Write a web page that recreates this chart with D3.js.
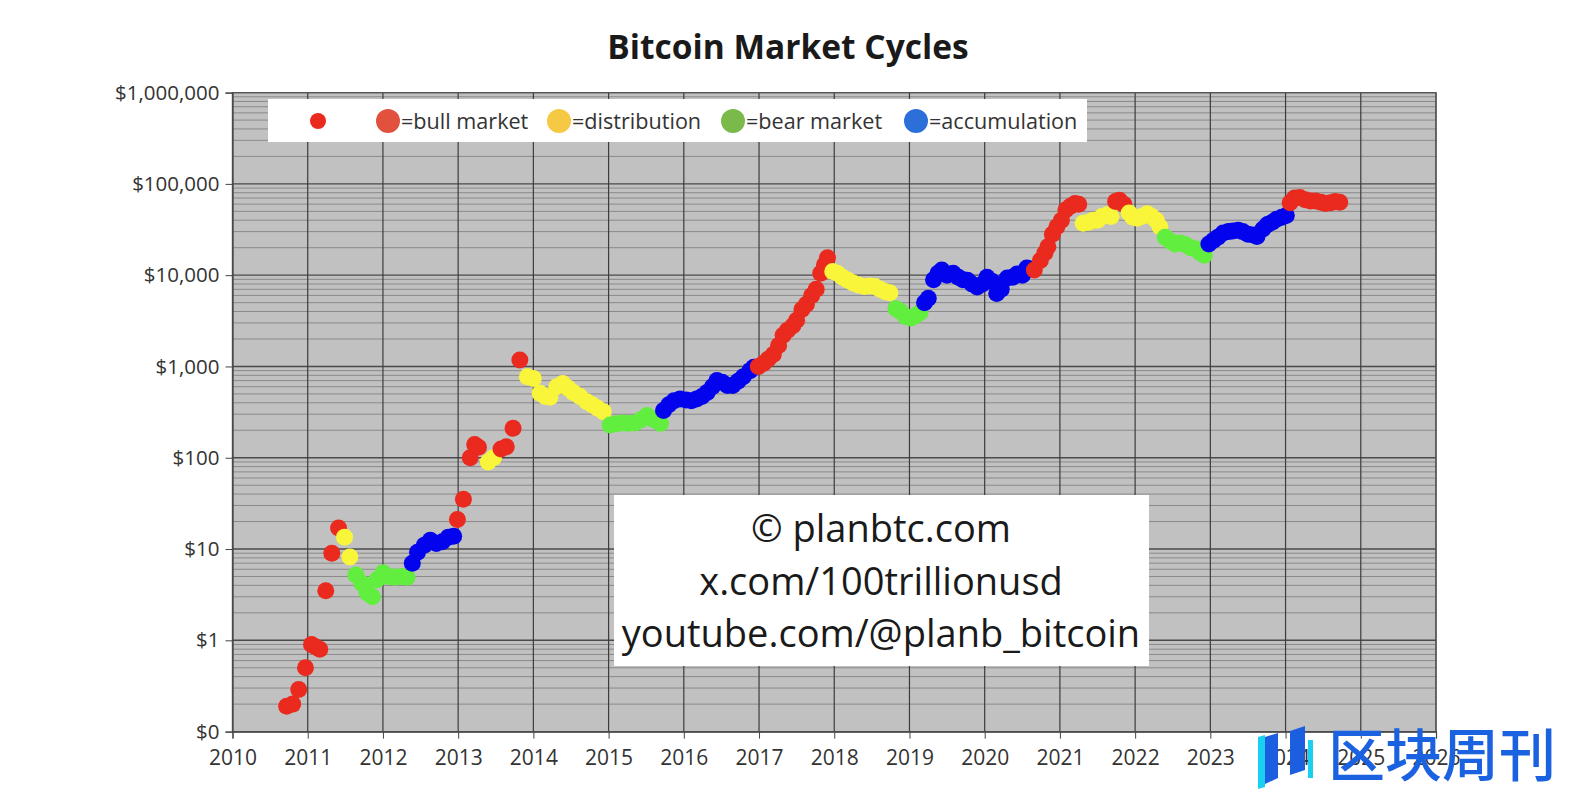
<!DOCTYPE html>
<html><head><meta charset="utf-8">
<script src="https://cdn.jsdelivr.net/npm/d3@7"></script>
<style>
body{margin:0;background:#fff;}
svg{display:block;font-family:"Open Sans",sans-serif;}
</style>
</head><body>
<svg id="chart" width="1578" height="804"></svg>
<script>
// ---------- DATA (decimal year, price USD) ----------
const bullMarket = [
 [2010.72,0.19],[2010.80,0.2],[2010.88,0.29],[2010.97,0.5],[2011.05,0.9],[2011.10,0.85],[2011.16,0.8],
 [2011.24,3.5],[2011.32,9],[2011.41,17],
 [2012.99,21],[2013.07,35],[2013.16,100],[2013.22,140],[2013.27,130],
 [2013.57,125],[2013.64,132],[2013.73,210],[2013.82,1180],
 [2016.99,1000],[2017.06,1080],[2017.12,1200],[2017.19,1350],[2017.26,1700],[2017.32,2200],[2017.38,2500],
 [2017.45,2800],[2017.50,3200],[2017.57,4200],[2017.63,4800],[2017.70,6000],[2017.76,7000],[2017.82,10500],
 [2017.87,13000],[2017.91,15500],
 [2020.66,11400],[2020.74,14500],[2020.80,17500],[2020.84,20500],[2020.90,28000],[2020.96,34000],
 [2021.02,40000],[2021.08,52000],[2021.14,57000],[2021.20,61000],[2021.25,60000],
 [2021.74,64000],[2021.79,66000],[2021.85,60000],
 [2024.06,62000],[2024.12,70000],[2024.19,71000],[2024.26,67000],[2024.33,65000],[2024.40,65000],
 [2024.47,63000],[2024.53,61000],[2024.60,62000],[2024.66,64000],[2024.72,63000]
];
const distribution = [
 [2011.49,13.5],[2011.56,8.2],
 [2013.40,90],[2013.47,100],
 [2013.92,770],[2014.00,740],[2014.09,510],[2014.16,470],[2014.22,460],[2014.31,600],[2014.39,650],
 [2014.46,580],[2014.53,520],[2014.62,470],[2014.71,410],[2014.78,380],[2014.85,350],[2014.93,320],
 [2017.98,11000],[2018.04,10500],[2018.11,9500],[2018.18,8800],[2018.25,8200],[2018.32,7800],[2018.40,7500],
 [2018.47,7600],[2018.54,7500],[2018.61,7000],[2018.68,6600],[2018.74,6400],
 [2021.31,37000],[2021.38,38000],[2021.44,40000],[2021.50,40000],[2021.56,44000],[2021.63,46000],[2021.68,44000],
 [2021.92,48000],[2021.97,43000],[2022.03,42000],[2022.09,44000],[2022.16,47000],[2022.22,44000],[2022.28,40000],[2022.33,34000]
];
const bearMarket = [
 [2011.64,5.2],[2011.72,4.2],[2011.79,3.3],[2011.86,3.0],[2011.92,4.6],[2012.00,5.5],[2012.08,5.0],
 [2012.16,4.9],[2012.24,5.0],[2012.32,4.9],
 [2015.02,229],[2015.10,235],[2015.18,240],[2015.25,238],[2015.35,240],[2015.43,260],[2015.51,290],[2015.60,260],[2015.69,238],
 [2018.82,4300],[2018.88,4000],[2018.95,3500],[2019.02,3400],[2019.08,3600],[2019.14,3900],
 [2022.40,26000],[2022.47,23500],[2022.53,22000],[2022.60,22500],[2022.67,21500],[2022.74,20000],[2022.80,19500],
 [2022.87,17500],[2022.92,16500]
];
const accumulation = [
 [2012.39,7.0],[2012.46,9.2],[2012.55,11],[2012.63,12.5],[2012.71,11.5],[2012.79,12],[2012.87,13.5],[2012.94,13.8],
 [2015.73,330],[2015.80,380],[2015.87,420],[2015.95,440],[2016.03,430],[2016.10,420],[2016.17,440],[2016.24,470],
 [2016.31,520],[2016.38,600],[2016.44,700],[2016.51,670],[2016.58,620],[2016.65,620],[2016.72,690],[2016.79,770],
 [2016.88,900],[2016.93,980],
 [2019.20,5000],[2019.25,5600],[2019.32,8900],[2019.38,10500],[2019.43,11400],[2019.50,10000],[2019.58,10500],
 [2019.65,9500],[2019.71,8900],[2019.77,8800],[2019.83,8000],[2019.90,7400],[2019.97,8000],[2020.03,9500],
 [2020.10,8500],[2020.16,6300],[2020.22,7000],[2020.30,9300],[2020.37,9500],[2020.43,10300],[2020.50,10000],
 [2020.56,12000],[2020.61,11700],
 [2022.98,22000],[2023.04,24000],[2023.10,26000],[2023.17,29000],[2023.24,30000],[2023.30,30500],[2023.37,31000],
 [2023.43,30000],[2023.50,28000],[2023.57,27500],[2023.62,26500],[2023.70,32000],[2023.76,36000],[2023.82,38000],
 [2023.88,41000],[2023.95,43000],[2024.01,45000]
];
const phaseNames = ["bull","distribution","bear","accumulation"];
const legendLabels = ["=bull market","=distribution","=bear market","=accumulation"];
const yTickValues = [0.1,1,10,100,1000,10000,100000,1000000];
const yTickLabels = ["$0","$1","$10","$100","$1,000","$10,000","$100,000","$1,000,000"];
const xTickYears = [2010,2011,2012,2013,2014,2015,2016,2017,2018,2019,2020,2021,2022,2023,2024,2025,2026];
const titleText = "Bitcoin Market Cycles";
const creditLines = ["© planbtc.com","x.com/100trillionusd","youtube.com/@planb_bitcoin"];
const brandText = "区块周刊";

// ---------- STYLE ----------
const dotColor = {bull:"#ea2a1e", distribution:"#f8f53a", bear:"#62ee3e", accumulation:"#0303ee"};
const legendColor = {bull:"#e2513e", distribution:"#f6c944", bear:"#79ba4b", accumulation:"#2d6fd8"};

const svg = d3.select("#chart");
const L = 232.5, R = 1436, T = 92.6, B = 731.6;
const x = d3.scaleLinear().domain([2010,2026]).range([L,R]);
const y = d3.scaleLog().domain([0.1,1e6]).range([B,T]);

// plot background
svg.append("rect").attr("x",L).attr("y",T).attr("width",R-L).attr("height",B-T).attr("fill","#c1c1c1");

// minor horizontal grid
const minor = [];
for (let e=-1; e<6; e++) for (let k=2; k<=9; k++) minor.push(k*Math.pow(10,e));
svg.append("g").selectAll("line").data(minor).join("line")
  .attr("x1",L).attr("x2",R).attr("y1",d=>y(d)).attr("y2",d=>y(d))
  .attr("stroke","#8a8a8a").attr("stroke-width",1);
// major horizontal grid
svg.append("g").selectAll("line").data(yTickValues).join("line")
  .attr("x1",L).attr("x2",R).attr("y1",d=>y(d)).attr("y2",d=>y(d))
  .attr("stroke","#4a4a4a").attr("stroke-width",1.4);
// vertical grid
svg.append("g").selectAll("line").data(xTickYears).join("line")
  .attr("x1",d=>x(d)).attr("x2",d=>x(d)).attr("y1",T).attr("y2",B)
  .attr("stroke","#3c3c3c").attr("stroke-width",1.2);

// plot border
svg.append("rect").attr("x",L).attr("y",T).attr("width",R-L).attr("height",B-T)
  .attr("fill","none").attr("stroke","#555").attr("stroke-width",1.2);

// axes
const yAxis = svg.append("g").attr("transform",`translate(${L},0)`)
  .call(d3.axisLeft(y).tickValues(yTickValues).tickFormat((d,i)=>yTickLabels[i]).tickSize(7).tickPadding(6));
const xAxis = svg.append("g").attr("transform",`translate(0,${B})`)
  .call(d3.axisBottom(x).tickValues(xTickYears).tickFormat(d=>String(d)).tickSize(7).tickPadding(11));
[yAxis,xAxis].forEach(a=>{
  a.select(".domain").attr("stroke","#444").attr("stroke-width",1.2);
  a.selectAll(".tick line").attr("stroke","#444");
  a.selectAll("text").attr("fill","#333").style("font-family","'Open Sans',sans-serif");
});
yAxis.selectAll("text").style("font-size","20.5px");
xAxis.selectAll("text").style("font-size","21px");

// points (chronological)
const allPts = [];
[bullMarket,distribution,bearMarket,accumulation].forEach((arr,i)=>arr.forEach(p=>allPts.push({t:p[0],v:p[1],ph:phaseNames[i]})));
allPts.sort((a,b)=>a.t-b.t);
svg.append("g").selectAll("circle").data(allPts).join("circle")
  .attr("cx",d=>x(d.t)).attr("cy",d=>y(d.v)).attr("r",8.5)
  .attr("fill",d=>dotColor[d.ph]);

// legend
const lg = svg.append("g");
lg.append("rect").attr("x",268).attr("y",99).attr("width",819).attr("height",43).attr("fill","#fff");
lg.append("circle").attr("cx",318).attr("cy",121).attr("r",8).attr("fill",dotColor.bull);
const legendX = [388,559,733,916];
phaseNames.forEach((ph,i)=>{
  lg.append("circle").attr("cx",legendX[i]).attr("cy",121).attr("r",12).attr("fill",legendColor[ph]);
  lg.append("text").attr("x",legendX[i]+13).attr("y",128.5).attr("fill","#333")
    .style("font-size","21.6px").text(legendLabels[i]);
});

// title
svg.append("text").attr("x",788).attr("y",59).attr("text-anchor","middle")
  .attr("fill","#1a1a1a").style("font-size","33.5px").style("font-weight","bold").text(titleText);

// credit box
svg.append("rect").attr("x",614).attr("y",495).attr("width",535).attr("height",171).attr("fill","#fff");
creditLines.forEach((t,i)=>{
  svg.append("text").attr("x",881).attr("y",542+i*52.5).attr("text-anchor","middle")
    .attr("fill","#1a1a1a").style("font-size","38px").text(t);
});

// brand watermark
const wm = svg.append("g");
wm.append("polygon").attr("points","1258,737 1265,735 1265,787 1258,789").attr("fill","#1ad0f0");
wm.append("polygon").attr("points","1265,737 1278,733 1278,778 1265,784").attr("fill","#1b5fe0");
wm.append("polygon").attr("points","1290,731 1305,726 1305,770 1290,775").attr("fill","#1b5fe0");
wm.append("rect").attr("x",1308).attr("y",740).attr("width",5).attr("height",38).attr("fill","#1ad0f0");
wm.append("text").attr("x",1328).attr("y",776).attr("fill","#1b62e0")
  .style("font-family","'Noto Sans CJK SC',sans-serif").style("font-size","57px").style("font-weight","500").text(brandText);
</script>
</body></html>
